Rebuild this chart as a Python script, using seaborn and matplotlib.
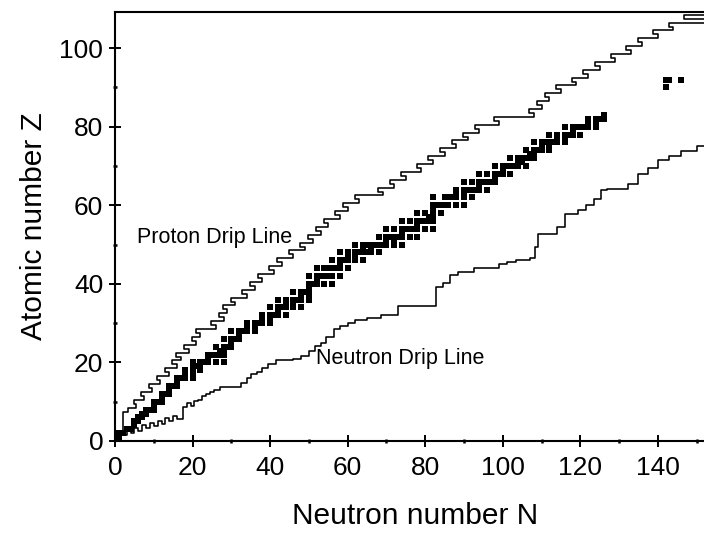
import numpy as np
import pandas as pd
import matplotlib
matplotlib.use("Agg")
import matplotlib.pyplot as plt
import seaborn as sns
from matplotlib.ticker import MultipleLocator

# ---------------- data ----------------
# stable (and very long-lived) nuclides: neutron numbers for each Z
stable_Z = list(range(1, 84)) + [90, 92]
stable_N = [
    [0, 1], [1, 2], [3, 4], [5], [5, 6], [6, 7], [7, 8], [8, 9, 10], [10],
    [10, 11, 12], [12], [12, 13, 14], [14], [14, 15, 16], [16],
    [16, 17, 18, 20], [18, 20], [18, 20, 22], [20, 21, 22],
    [20, 22, 23, 24, 26, 28], [24], [24, 25, 26, 27, 28], [27, 28],
    [26, 28, 29, 30], [30], [28, 30, 31, 32], [32], [30, 32, 33, 34, 36],
    [34, 36], [34, 36, 37, 38, 40], [38, 40], [38, 40, 41, 42, 44], [42],
    [40, 42, 43, 44, 46, 48], [44, 46], [42, 44, 46, 47, 48, 50], [48, 50],
    [46, 48, 49, 50], [50], [50, 51, 52, 54, 56], [52],
    [50, 52, 53, 54, 55, 56, 58], [], [52, 54, 55, 56, 57, 58, 60], [58],
    [56, 58, 59, 60, 62, 64], [60, 62], [58, 60, 62, 63, 64, 65, 66, 68],
    [64, 66], [62, 64, 65, 66, 67, 68, 69, 70, 72, 74], [70, 72],
    [68, 70, 71, 72, 73, 74, 76, 78], [74], [70, 72, 74, 75, 76, 77, 78, 80, 82],
    [78], [74, 76, 78, 79, 80, 81, 82], [81, 82], [78, 80, 82, 84], [82],
    [82, 83, 84, 85, 86, 88, 90], [], [82, 85, 86, 87, 88, 90, 92], [88, 90],
    [88, 90, 91, 92, 93, 94, 96], [94], [90, 92, 94, 95, 96, 97, 98], [98],
    [94, 96, 98, 99, 100, 102], [100], [98, 100, 101, 102, 103, 104, 106],
    [104, 105], [102, 104, 105, 106, 107, 108], [107, 108],
    [106, 108, 109, 110, 112], [110, 112], [108, 110, 111, 112, 113, 114, 116],
    [114, 116], [112, 114, 116, 117, 118, 120], [118],
    [116, 118, 119, 120, 121, 122, 124], [122, 124], [122, 124, 125, 126],
    [126], [142], [142, 143, 146],
]

# proton drip line: edge position (N) for each Z row
proton_Z = list(range(3, 110))
proton_N = [2.1, 2.1, 2.1, 2.1, 2.1, 3.4, 5.5, 4.8, 7.5, 6.8, 9.5, 8.8, 11.5, 10.8,
            14, 12.8, 16, 14.8, 17, 15.8, 19, 17.8, 21, 19.8, 22, 20.8, 26, 24.8,
            28, 26.8, 29, 27.8, 31, 29.8, 34, 32.8, 36, 34.8, 38, 36.8, 41, 39.8,
            43, 41.8, 46, 44.8, 49, 47.8, 51, 49.8, 53, 51.8, 55, 53.8, 58, 56.8,
            60, 58.8, 63, 61.8, 69, 67.8, 72, 70.8, 75, 73.8, 79, 77.8, 82, 80.8,
            85, 83.8, 88, 86.8, 91, 89.8, 94, 92.8, 99, 97.8, 108, 106.8, 110,
            108.8, 112, 110.8, 115, 113.8, 119, 117.8, 122, 120.8, 125, 123.8,
            129, 127.8, 133, 131.8, 136, 134.8, 140, 138.8, 144, 142.8, 155,
            146.8, 158]

# neutron drip line: step break points (N) and levels (Z)
neutron_N = [2, 3, 4, 5, 6, 7, 8, 9, 10, 11, 12, 13, 14, 15, 16, 17.5, 18.5,
             19.5, 20.5, 21.5, 22.5, 23.5, 24.5, 25.5, 27, 32.5, 34, 35, 36.5,
             38, 39.5, 41.5, 46, 48, 50, 51.5, 53, 54.5, 56.5, 58, 60, 62, 65,
             68.5, 73, 82.8, 84.5, 86.5, 88.5, 92.5, 99, 101, 103.5, 107,
             108.2, 109, 114, 116, 119.5, 121.5, 123.5, 125.4, 127, 132.3,
             134.9, 137.5, 140, 143, 146, 150, 152.5, 156]
neutron_Z = [1.5, 2.7, 2.0, 3.4, 2.6, 4.0, 3.2, 4.6, 3.8, 5.2, 4.4, 5.8, 5.0,
             6.4, 5.6, 8.7, 9.8, 9.0, 10.2, 10.4, 11.5, 12, 12.5, 13, 13.7,
             14.7, 16, 17, 17.6, 18.5, 19.7, 20.6, 21, 21.6, 23, 24.1, 25,
             26.5, 28.4, 29.3, 30, 30.7, 31.3, 32.2, 34.3, 39.3, 40.2, 42.3,
             43, 44, 45, 45.6, 46, 46.5, 49.4, 52.8, 54.5, 57.9, 58.7, 60,
             61.5, 63.8, 64.2, 65.5, 68, 69.5, 71.4, 72.5, 73.9, 75, 76.5, 76.5]

x_ticks = [0, 20, 40, 60, 80, 100, 120, 140]
y_ticks = [0, 20, 40, 60, 80, 100]

# ---------------- tables ----------------
stable_df = pd.DataFrame(
    [(n, z) for z, ns in zip(stable_Z, stable_N) for n in ns], columns=["N", "Z"]
)
pz = np.array(proton_Z, dtype=float)
pn = np.array(proton_N, dtype=float)
proton_df = pd.DataFrame({
    "N": np.repeat(pn, 2),
    "Z": np.ravel(np.column_stack([pz - 0.5, pz + 0.5])),
})
neutron_df = pd.DataFrame({"N": neutron_N, "Z": neutron_Z})

# ---------------- plot ----------------
sns.set_theme(style="ticks")
plt.rcParams["font.family"] = ["Liberation Sans", "DejaVu Sans"]

W, H = 704, 536
fig = plt.figure(figsize=(W / 100, H / 100), dpi=100)
ax = fig.add_axes([115 / W, 1 - 441 / H, 601 / W, 429 / H])

sns.scatterplot(data=stable_df, x="N", y="Z", marker="s", s=14, color="black",
                linewidth=0, ax=ax, legend=False)
sns.lineplot(data=proton_df, x="N", y="Z", sort=False, estimator=None,
             color="black", lw=1.15, ax=ax)
sns.lineplot(data=neutron_df, x="N", y="Z", sort=False, estimator=None,
             color="black", lw=1.15, drawstyle="steps-post", ax=ax)

ax.set_xlim(0, 155)
ax.set_ylim(0, 109.2)
ax.set_xticks(x_ticks)
ax.set_yticks(y_ticks)
ax.xaxis.set_minor_locator(MultipleLocator(10))
ax.yaxis.set_minor_locator(MultipleLocator(10))
ax.tick_params(which="major", direction="inout", length=9, width=1.4,
               labelsize=19, color="black", labelcolor="black")
ax.tick_params(axis="x", which="major", pad=6)
ax.tick_params(axis="y", which="major", pad=4)
ax.tick_params(which="minor", direction="inout", length=3.5, width=1.8,
               color="black")
for side in ["left", "bottom", "top"]:
    ax.spines[side].set_linewidth(1.5)
    ax.spines[side].set_color("black")
ax.spines["right"].set_visible(False)

ax.set_xlabel("Neutron number N", fontsize=21.5, labelpad=16, color="black")
ax.set_ylabel("Atomic number Z", fontsize=21.5, labelpad=8, color="black")

ax.text(5.7, 51.9, "Proton Drip Line", fontsize=15.5, va="center", ha="left",
        color="black")
ax.text(51.9, 21.1, "Neutron Drip Line", fontsize=15.5, va="center", ha="left",
        color="black")

fig.savefig("out.png", dpi=100, facecolor="white")
